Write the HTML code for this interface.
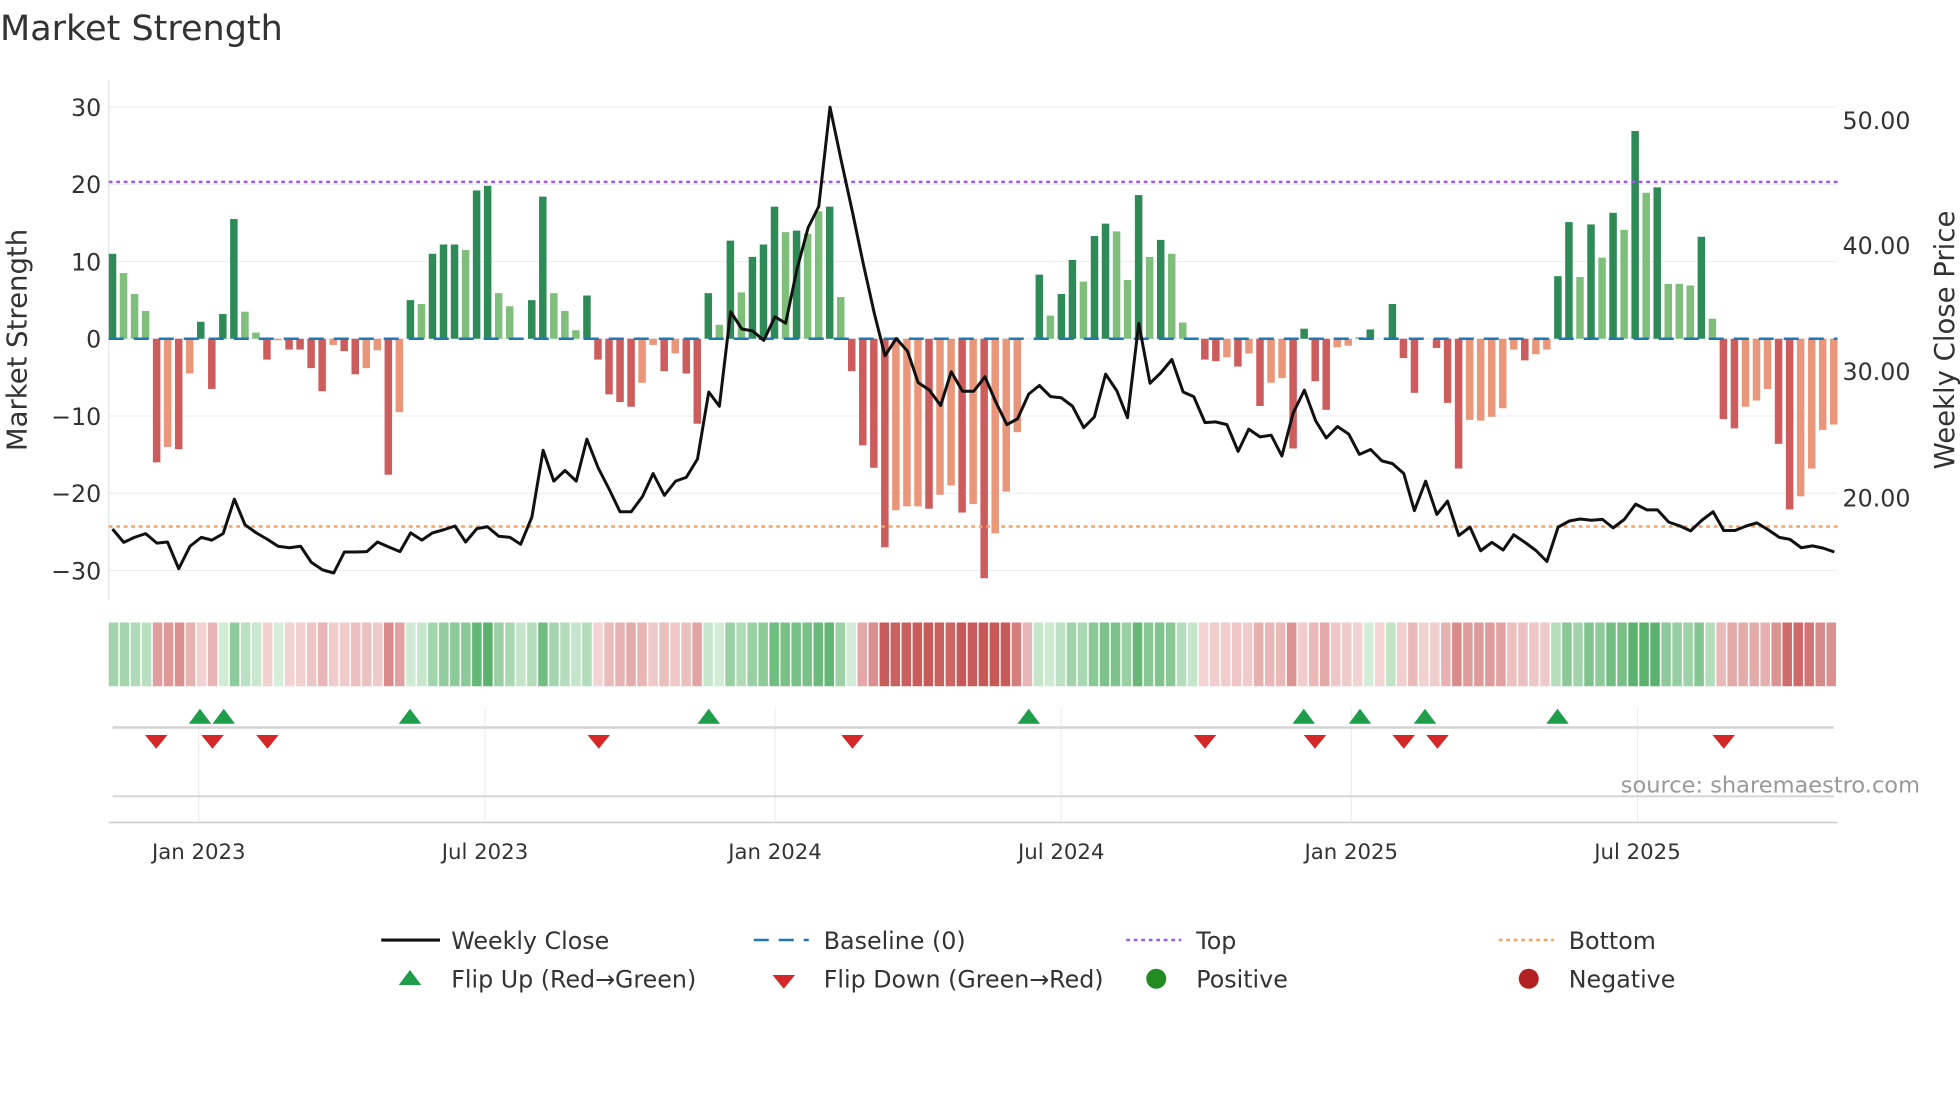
<!DOCTYPE html>
<html><head><meta charset="utf-8"><style>
html,body{margin:0;padding:0;background:#fff;}
svg{display:block;font-family:"DejaVu Sans","Liberation Sans",sans-serif;}
</style></head><body>
<svg id="s" width="1960" height="1102" viewBox="0 0 1568 881.6" xmlns="http://www.w3.org/2000/svg"></svg>
<script>
const N=157, X0=90, DX=(1467-90)/156;
const xi=i=>X0+i*DX;
// bars: [idx,val,dark]
const A=[[0,11,1],[1,8.5,0],[2,5.8,0],[3,3.6,0],[4,-16,1],[5,-14,0],[6,-14.3,1],[7,-4.5,0],[8,2.2,1],[9,-6.5,1],[10,3.2,1],[11,15.5,1],[12,3.5,0],[13,0.8,0],[14,-2.7,1],[15,-0.2,0],[16,-1.4,1],[17,-1.4,1],[18,-3.8,1],[19,-6.8,1],[20,-0.8,0],[21,-1.6,1],[22,-4.6,1],[23,-3.8,0],[24,-1.5,0],[25,-17.6,1],[26,-9.5,0],[27,5,1],[28,4.5,0],[29,11,1],[30,12.2,1],[31,12.2,1],[32,11.5,0],[33,19.2,1],[34,19.8,1],[35,5.9,0],[36,4.2,0],[38,5,1],[39,18.4,1],[40,5.9,0],[41,3.6,0],[42,1.1,0],[43,5.6,1],[44,-2.7,1],[45,-7.2,1],[46,-8.2,1],[47,-8.8,1],[48,-5.7,0],[49,-0.8,0],[50,-4.2,1],[51,-1.9,0],[52,-4.5,1],[53,-11,1],[54,5.9,1],[55,1.8,0],[56,12.7,1],[57,6,0],[58,10.6,1],[59,12.2,1],[60,17.1,1],[61,13.8,0],[62,14,1],[63,13.6,0],[64,16.5,0],[65,17.1,1],[66,5.4,0],[67,-4.2,1],[68,-13.8,1],[69,-16.7,1],[70,-27,1],[71,-22.2,0],[72,-21.7,0],[73,-21.7,0],[74,-22,1],[75,-20.2,0],[76,-19,0],[77,-22.5,1],[78,-21.4,0]];
const B=[[8,-31,1],[25,-25.2,0],[43,-19.8,0],[60,-12.1,0],[95,8.3,1],[113,3,0],[130,5.8,1],[148,10.2,1],[165,7.4,0],[183,13.3,1],[200,14.9,1],[218,13.9,0],[236,7.6,0],[254,18.6,1],[272,10.6,0],[289,12.8,1],[307,11,0],[324,2.1,0],[359,-2.7,1],[377,-2.9,1],[395,-2.4,0],[412,-3.6,1],[430,-1.9,0],[448,-8.7,1],[465,-5.7,0],[483,-5.1,0],[501,-14.2,1],[519,1.3,1],[537,-5.5,1],[554,-9.2,1],[572,-1.1,0],[590,-0.9,0],[607,0.2,0],[625,1.2,1],[660,4.5,1],[678,-2.5,1],[695,-7,1],[730,-1.2,1],[748,-8.3,1],[766,-16.8,1],[784,-10.5,0],[801,-10.6,0],[819,-10.1,0],[837,-9,0],[854,-1.4,0],[872,-2.8,1],[890,-2,0],[907,-1.4,0],[925,8.1,1],[943,15.1,1],[960,8,0],[978,14.8,1],[996,10.5,0],[1014,16.3,1],[1031,14.1,0],[1049,26.9,1],[1067,18.9,0],[1084,19.6,1],[1102,7.1,0],[1120,7.1,0],[1137,6.9,0],[1155,13.2,1],[1173,2.6,0],[1190,-10.4,1],[1208,-11.6,1],[1226,-8.8,0],[1243,-8,0],[1261,-6.5,0],[1279,-13.6,1],[1296,-22.1,1],[1314,-20.4,0],[1331,-16.8,0],[1349,-11.8,0],[1367,-11.1,0]];
const bars=new Array(N).fill(null);
A.forEach(b=>bars[b[0]]=[b[1],b[2]]);
B.forEach(b=>bars[79+Math.round((b[0]-8)/17.65)]=[b[1],b[2]]);
const y0=271, k=6.18; const yv=v=>y0-v*k;
let h='';
h+='<text x="0" y="32" font-size="28" fill="#333">Market Strength</text>';
// grid
[30,20,10,0,-10,-20,-30].forEach(v=>{h+=`<line x1="87" x2="1470" y1="${yv(v)}" y2="${yv(v)}" stroke="#eceff3" stroke-width="1"/>`;
h+=`<text x="81" y="${yv(v)+7}" font-size="19" fill="#333" text-anchor="end">${v<0?'\u2212'+(-v):v}</text>`;});
h+='<line x1="87" x2="87" y1="64" y2="480" stroke="#e3e6ea"/>';
[[50,96],[40,196],[30,297],[20,398]].forEach(p=>h+=`<text x="1474" y="${p[1]+7}" font-size="19" fill="#333">${p[0]}.00</text>`);
h+='<text transform="translate(21,272) rotate(-90)" font-size="22" fill="#333" text-anchor="middle">Market Strength</text>';
h+='<text transform="translate(1563,272) rotate(-90)" font-size="22" fill="#333" text-anchor="middle">Weekly Close Price</text>';
// bars
for(let i=0;i<N;i++){const b=bars[i];if(!b)continue;const v=b[0];const pos=v>=0;
const c=pos?(b[1]?'#2e8b57':'#7fbf7b'):(b[1]?'#cd5c5c':'#e9967a');
const y=pos?yv(v):y0;const hh=Math.abs(v)*k;h+=`<rect x="${xi(i)-3}" y="${y}" width="6" height="${hh}" fill="${c}"/>`;}
h+='<line x1="87" x2="1470" y1="271" y2="271" stroke="#1f77b4" stroke-width="2" stroke-dasharray="12,8"/>';
h+=`<line x1="87" x2="1470" y1="${yv(20.3)}" y2="${yv(20.3)}" stroke="#9d5cf0" stroke-width="2" stroke-dasharray="3,3"/>`;
h+=`<line x1="87" x2="1470" y1="${yv(-24.3)}" y2="${yv(-24.3)}" stroke="#f4a460" stroke-width="2" stroke-dasharray="3,3"/>`;
// price
const P1=[[180,1383],[198,1418],[215,1405],[233,1395],[251,1420],[268,1417],[286,1487],[304,1428],[322,1405],[339,1412],[357,1395],[375,1305],[392,1372],[410,1393],[428,1410],[445,1428],[463,1432],[481,1428],[498,1470],[516,1490],[534,1498],[551,1443],[569,1443],[587,1442],[604,1417],[622,1430],[640,1442],[657,1393],[675,1412],[692,1393],[710,1385],[728,1375],[745,1417],[763,1382],[780,1377],[798,1402],[816,1405],[833,1423],[851,1352],[869,1177],[886,1258],[904,1230],[922,1258],[939,1148],[957,1223],[975,1280],[992,1338],[1010,1338],[1028,1298],[1045,1238],[1063,1295],[1081,1258],[1098,1248],[1116,1200],[1134,1025],[1151,1062],[1169,815],[1187,860],[1204,865],[1222,890],[1240,828],[1257,845],[1275,705],[1293,595],[1310,540],[1328,280],[1346,420],[1364,555],[1381,688],[1399,820],[1416,930],[1434,885],[1452,918],[1469,1000],[1487,1020],[1505,1060],[1522,972],[1540,1023],[1558,1023]];
const P2=[[8,985],[25,1050],[43,1110],[60,1095],[78,1030],[95,1008],[113,1037],[130,1040],[148,1062],[166,1118],[183,1090],[201,978],[219,1022],[236,1092],[254,845],[272,1002],[289,975],[307,940],[325,1025],[342,1037],[360,1105],[377,1103],[395,1110],[413,1180],[430,1122],[448,1142],[466,1138],[483,1192],[501,1080],[519,1020],[537,1100],[554,1145],[572,1115],[590,1135],[607,1188],[625,1175],[643,1205],[660,1212],[678,1238],[695,1335],[713,1258],[731,1345],[748,1310],[766,1400],[784,1378],[801,1440],[819,1418],[837,1438],[854,1398],[872,1418],[890,1440],[907,1468],[925,1378],[943,1362],[960,1357],[978,1360],[996,1358],[1013,1380],[1031,1358],[1049,1318],[1067,1333],[1084,1333],[1102,1365],[1120,1375],[1137,1388],[1155,1360],[1173,1338],[1190,1387],[1208,1387],[1226,1375],[1243,1367],[1261,1385],[1279,1405],[1296,1410],[1314,1432],[1332,1427],[1349,1433],[1367,1443]];
let pts=P1.map(p=>[p[0]/2,p[1]*0.306]).concat(P2.map(p=>[784+p[0]/2,p[1]*0.306]));
h+=`<polyline points="${pts.map(p=>p[0].toFixed(1)+','+p[1].toFixed(1)).join(' ')}" fill="none" stroke="#111" stroke-width="2.4" stroke-linejoin="round"/>`;
// heat strip
let ema=0;const vals=[];for(let i=0;i<N;i++){const v=bars[i]?bars[i][0]:0;ema=ema*0.6+v*0.4;vals.push(ema*0.5+v*0.5);}
const mix=(a,b,t)=>'rgb('+a.map((c,j)=>Math.round(c+(b[j]-c)*t)).join(',')+')';
for(let i=0;i<N;i++){const v=vals[i];let c;
if(v>=0){c=mix([214,238,218],[90,178,108],Math.min(1,v/18));}else{c=mix([244,214,214],[198,88,86],Math.min(1,-v/22));}
h+=`<rect x="${(87+i*(1383/N)).toFixed(2)}" y="498" width="${(1383/N-1.2).toFixed(2)}" height="51" fill="${c}"/>`;}
// marker panel
const tx=[[159,'Jan 2023'],[388,'Jul 2023'],[620,'Jan 2024'],[849,'Jul 2024'],[1081,'Jan 2025'],[1310,'Jul 2025']];
tx.forEach(t=>{h+=`<line x1="${t[0]}" x2="${t[0]}" y1="566" y2="658" stroke="#ececec"/>`;h+=`<text x="${t[0]}" y="687" font-size="17" fill="#333" text-anchor="middle">${t[1]}</text>`;});
h+='<line x1="90" x2="1467" y1="582" y2="582" stroke="#d4d4d4" stroke-width="2"/>';
h+='<line x1="90" x2="1467" y1="637" y2="637" stroke="#d4d4d4" stroke-width="1.5"/>';
h+='<line x1="87" x2="1470" y1="658" y2="658" stroke="#ccc" stroke-width="1.2"/>';
const up=(x,y)=>`<polygon points="${x-9},${y+6} ${x+9},${y+6} ${x},${y-6}" fill="#1e9e4a"/>`;
const dn=(x,y)=>`<polygon points="${x-9},${y-5} ${x+9},${y-5} ${x},${y+6}" fill="#d62728"/>`;
[160,179,328,567,823,1043,1088,1140,1246].forEach(x=>h+=up(x,573));
[125,170,214,479,682,964,1052,1123,1150,1379].forEach(x=>h+=dn(x,593));
h+='<text x="1536" y="634" font-size="18" fill="#999" text-anchor="end">source: sharemaestro.com</text>';
// legend
const L=(x,y,t)=>`<text x="${x}" y="${y+7}" font-size="19" fill="#333">${t}</text>`;
h+='<line x1="305" x2="352" y1="752" y2="752" stroke="#111" stroke-width="2.5"/>'+L(361,752,'Weekly Close');
h+='<line x1="603" x2="647" y1="752" y2="752" stroke="#1f77b4" stroke-width="2" stroke-dasharray="12,8"/>'+L(659,752,'Baseline (0)');
h+='<line x1="901" x2="945" y1="752" y2="752" stroke="#9d5cf0" stroke-width="2" stroke-dasharray="3,3"/>'+L(957,752,'Top');
h+='<line x1="1199" x2="1243" y1="752" y2="752" stroke="#f4a460" stroke-width="2" stroke-dasharray="3,3"/>'+L(1255,752,'Bottom');
h+=up(328,782)+L(361,783,'Flip Up (Red\u2192Green)');
h+=dn(627,785)+L(659,783,'Flip Down (Green\u2192Red)');
h+='<circle cx="925" cy="783" r="8" fill="#228b22"/>'+L(957,783,'Positive');
h+='<circle cx="1223" cy="783" r="8" fill="#b22222"/>'+L(1255,783,'Negative');
document.getElementById('s').innerHTML=h;
</script>
</body></html>
